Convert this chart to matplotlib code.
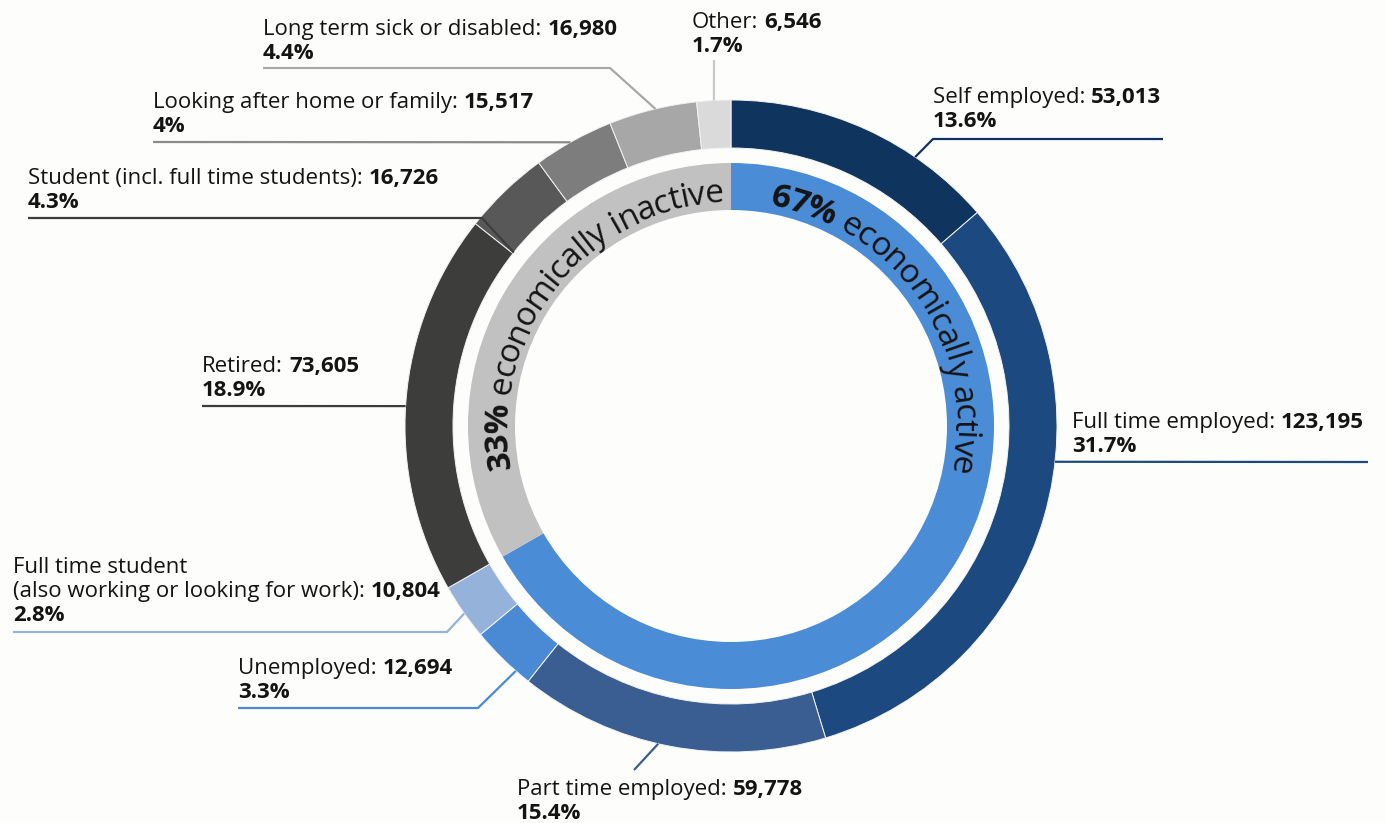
import numpy as np
import matplotlib
matplotlib.use("Agg")
import matplotlib.pyplot as plt
from matplotlib.font_manager import FontProperties

# ---------------- data ----------------
categories = ["Self employed", "Full time employed", "Part time employed", "Unemployed",
              "Full time student\n(also working or looking for work)", "Retired",
              "Student (incl. full time students)", "Looking after home or family",
              "Long term sick or disabled", "Other"]
counts = [53013, 123195, 59778, 12694, 10804, 73605, 16726, 15517, 16980, 6546]
pct_labels = ["13.6%", "31.7%", "15.4%", "3.3%", "2.8%", "18.9%", "4.3%", "4%", "4.4%", "1.7%"]
is_active = [True, True, True, True, True, False, False, False, False, False]
group_names = ["economically active", "economically inactive"]
group_pcts = ["67%", "33%"]

# ---------------- style ----------------
ring_colors = ["#0f355f", "#1c4a80", "#3a5e91", "#4a8ad5", "#95b3da",
               "#3d3d3c", "#575857", "#7c7d7c", "#a6a7a6", "#d9dad9"]
line_colors = ["#0f355f", "#1c4a80", "#3a5e91", "#4a8ad5", "#95b3da",
               "#3d3d3c", "#3d3d3c", "#8a8b8a", "#a6a7a6", "#c8c9c8"]
inner_colors = ["#4a8cd6", "#c0c1c0"]
TEXT_COLOR = "#141414"
BG = "#fdfdfc"
FAMILY = "Open Sans"

W, H = 1386, 823
CXp, CYp = 731, 426          # pixel (y down)
R_OUT, W_OUT = 326, 48
R_IN, W_IN = 263, 47


def Y(y):
    return H - y


CX, CY = CXp, Y(CYp)

# label layout: text x, first baseline (px, y down), leader path, anchor angle / radius
layout = [
    dict(tx=933, by=103, path=[(1163, 139), (933, 139)], ang=55.6, r=R_OUT),
    dict(tx=1072, by=428, path=[(1368, 462)], ang=-6.3, r=R_OUT),
    dict(tx=517, by=795, path=[(634, 770)], ang=-102.9, r=R_OUT),
    dict(tx=238, by=674, path=[(238, 708), (478, 708)], ang=-131.3, r=R_OUT),
    dict(tx=13, by=573, path=[(13, 632), (447, 632)], ang=-144.9, r=R_OUT),
    dict(tx=202, by=372, path=[(202, 406)], ang=176.5, r=R_OUT),
    dict(tx=28, by=184, path=[(28, 218), (482, 218)], ang=141.4, r=R_OUT - W_OUT),
    dict(tx=153, by=108, path=[(153, 142)], ang=119.5, r=R_OUT),
    dict(tx=263, by=35, path=[(263, 68), (610, 68)], ang=103.4, r=R_OUT),
    dict(tx=692, by=28, path=[(714, 60)], ang=93.0, r=R_OUT),
]
LINE_GAP = 24
LABEL_FS = 16
VALUE_GAP = 6

fig = plt.figure(figsize=(W / 100, H / 100), dpi=100, facecolor=BG)
ax = fig.add_axes([0, 0, 1, 1])
ax.set_facecolor(BG)

# outer ring
ax.pie(counts, radius=R_OUT, center=(CX, CY), startangle=90, counterclock=False,
       colors=ring_colors,
       wedgeprops=dict(width=W_OUT, edgecolor="#f2f2f2", linewidth=0.7))

# inner ring
active_total = sum(c for c, a in zip(counts, is_active) if a)
inactive_total = sum(c for c, a in zip(counts, is_active) if not a)
ax.pie([active_total, inactive_total], radius=R_IN, center=(CX, CY), startangle=90,
       counterclock=False, colors=inner_colors,
       wedgeprops=dict(width=W_IN, edgecolor="none"))

ax.set_xlim(0, W)
ax.set_ylim(0, H)
ax.set_aspect("equal")
ax.axis("off")

renderer = fig.canvas.get_renderer()


def text_w(s, fp):
    return renderer.get_text_width_height_descent(s, fp, ismath=False)[0]


def adv(ch, fp):
    return text_w("H" + ch + "H", fp) - text_w("HH", fp)


fp_reg = FontProperties(family=FAMILY, size=LABEL_FS)
fp_bold = FontProperties(family=FAMILY, size=LABEL_FS, weight="bold")

# labels and leader lines
for i, (name, cnt, pct) in enumerate(zip(categories, counts, pct_labels)):
    L = layout[i]
    lines = name.split("\n")
    by = L["by"]
    for j, ln in enumerate(lines):
        yb = by + j * LINE_GAP
        if j == len(lines) - 1:
            t = ax.text(L["tx"], Y(yb), ln + ":", fontproperties=fp_reg, color=TEXT_COLOR,
                        ha="left", va="baseline")
            bb = t.get_window_extent(renderer)
            x2 = ax.transData.inverted().transform((bb.x1, 0))[0] + VALUE_GAP
            ax.text(x2, Y(yb), f"{cnt:,}", fontproperties=fp_bold, color=TEXT_COLOR,
                    ha="left", va="baseline")
        else:
            ax.text(L["tx"], Y(yb), ln, fontproperties=fp_reg, color=TEXT_COLOR,
                    ha="left", va="baseline")
    ax.text(L["tx"], Y(by + len(lines) * LINE_GAP), pct, fontproperties=fp_bold,
            color=TEXT_COLOR, ha="left", va="baseline")

    th = np.radians(L["ang"])
    ex, ey = CX + L["r"] * np.cos(th), CY + L["r"] * np.sin(th)
    xs = [p[0] for p in L["path"]] + [ex]
    ys = [Y(p[1]) for p in L["path"]] + [ey]
    ax.plot(xs, ys, color=line_colors[i], lw=1.6, solid_capstyle="butt",
            solid_joinstyle="miter", zorder=3)


# curved text inside the inner ring (clockwise, tops outward)
def curved_text(segments, start_deg, r_base, r_step, fs):
    ang = start_deg
    for s, weight in segments:
        fp = FontProperties(family=FAMILY, size=fs, weight=weight)
        for ch in s:
            w = adv(ch, fp)
            dth = np.degrees(w / r_step)
            mid = ang - dth / 2
            t = np.radians(mid)
            ax.text(CX + r_base * np.cos(t), CY + r_base * np.sin(t), ch,
                    fontproperties=fp, color=TEXT_COLOR, rotation=mid - 90,
                    rotation_mode="anchor", ha="center", va="baseline", zorder=4)
            ang -= dth


CURVE_FS = 24
R_BASE = 224
R_STEP = 236
curved_text([(group_pcts[0], "bold"), (" " + group_names[0], "normal")], 80.0, R_BASE, R_STEP, CURVE_FS)
curved_text([(group_pcts[1], "bold"), (" " + group_names[1], "normal")], 190.8, R_BASE, R_STEP, CURVE_FS)

fig.savefig("out.png", dpi=100, facecolor=BG)
